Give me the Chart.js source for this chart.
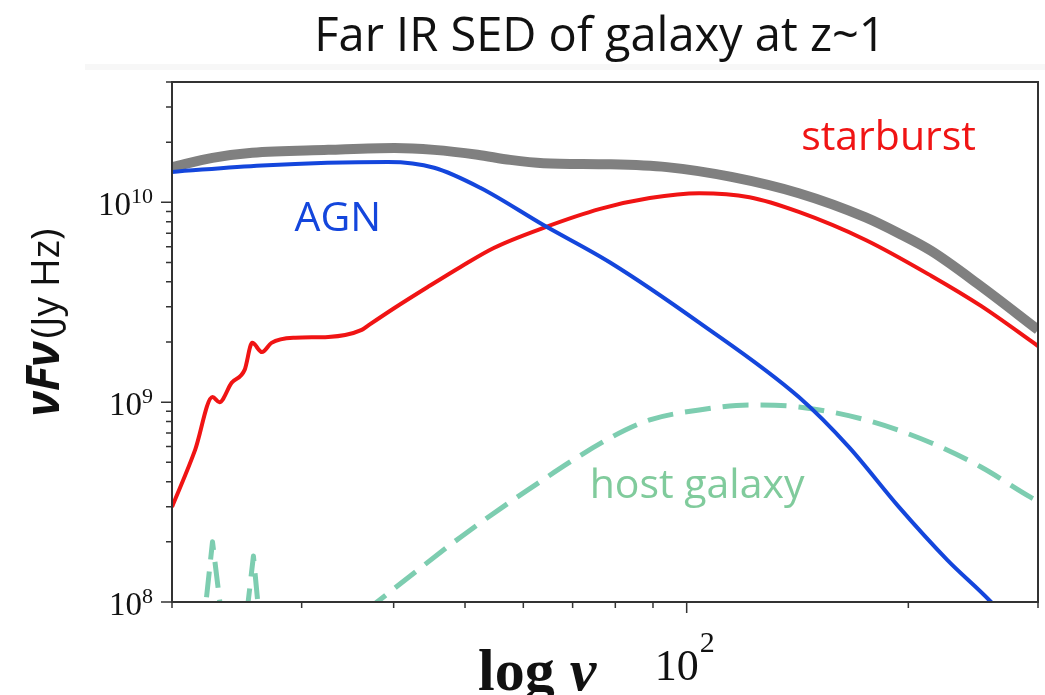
<!DOCTYPE html>
<html>
<head>
<meta charset="utf-8">
<script src="https://cdn.jsdelivr.net/npm/chart.js@4"></script>
<style>
  html, body { margin: 0; padding: 0; background: #fff; }
  #wrap { width: 1045px; height: 695px; position: relative; }
</style>
</head>
<body>
<div id="wrap"><canvas id="sed"></canvas></div>
<script>
// frequencies (x) and nuFnu (y)
const nuTotal = [20, 22.7, 25.7, 32.6, 40.1, 45.4, 52, 57.6, 63.9, 78.7, 94, 115, 142, 175, 194, 215, 251, 300];
const fTotal = [1.50e10, 1.67e10, 1.77e10, 1.83e10, 1.87e10, 1.83e10, 1.73e10, 1.63e10, 1.57e10, 1.55e10, 1.50e10, 1.34e10, 1.11e10, 8.4e9, 7.0e9, 5.7e9, 3.8e9, 2.3e9];

const nuAGN = [20, 26.5, 39.3, 45.4, 52.5, 63.9, 78.7, 104, 142, 166, 194, 226, 259, 300];
const fAGN = [1.42e10, 1.53e10, 1.59e10, 1.49e10, 1.18e10, 7.7e9, 5.0e9, 2.5e9, 1.06e9, 5.97e8, 3.0e8, 1.62e8, 1.0e8, 5.4e7];

const nuStarburst = [20, 21.5, 22.7, 23.2, 24.1, 25.1, 25.7, 26.5, 27.3, 29.4, 32.6, 36.2, 37.0, 40.1, 44.5, 49.3, 54.7, 63.9, 76.3, 89.1, 104, 121.7, 142, 175, 215, 251, 300];
const fStarburst = [2.99e8, 5.77e8, 1.06e9, 1.0e9, 1.25e9, 1.45e9, 1.98e9, 1.78e9, 1.98e9, 2.10e9, 2.12e9, 2.30e9, 2.43e9, 2.96e9, 3.77e9, 4.75e9, 5.91e9, 7.45e9, 9.27e9, 1.05e10, 1.11e10, 1.06e10, 8.95e9, 6.48e9, 4.28e9, 3.03e9, 1.91e9];

// host galaxy: the two narrow features at low nu, then the broad hump
const nuHostSpikes = [20, 22.1, 22.7, 23.4, 24.3, 25.2, 25.8, 26.3, 27.5];
const fHostSpikes = [5e7, 8e7, 2.0e8, 8e7, 5e7, 8e7, 1.7e8, 8e7, 5e7];
const nuHost = [30, 37.7, 40.1, 49.3, 60.8, 78.7, 89.1, 104, 121.7, 142, 175, 215, 251, 293, 300];
const fHost = [5.56e7, 9.8e7, 1.17e8, 2.11e8, 3.63e8, 6.62e8, 8.15e8, 9.14e8, 9.68e8, 9.46e8, 8.15e8, 6.25e8, 4.74e8, 3.35e8, 3.2e8];

// axis ticks
const xMin = 20, xMax = 300;
const yMin = 1e8, yMax = 4e10;
const xMajorTicks = [100];
const xMajorExps = ['2'];
const xMinorTicks = [20, 30, 40, 50, 60, 70, 80, 90, 200, 300];
const yMajorTicks = [1e8, 1e9, 1e10];
const yMajorExps = ['8', '9', '10'];
const yMinorTicks = [2e8, 3e8, 4e8, 5e8, 6e8, 7e8, 8e8, 9e8, 2e9, 3e9, 4e9, 5e9, 6e9, 7e9, 8e9, 9e9, 2e10, 3e10, 4e10];

// curve labels: text, nu, nuFnu
const curveLabels = ['starburst', 'AGN', 'host galaxy'];
const curveLabelNu = [188, 33.6, 103.3];
const curveLabelF = [1.83e10, 7.2e9, 3.31e8];
const curveLabelColors = ['#f01414', '#1446dc', '#80cb9c'];

const toPoints = (xs, ys) => xs.map((x, i) => ({ x: x, y: ys[i] }));

const decor = {
  id: 'decor',
  beforeDraw(chart) {
    const ctx = chart.ctx;
    ctx.save();
    ctx.fillStyle = '#fff';
    ctx.fillRect(0, 0, chart.width, chart.height);
    // faint band under the title
    ctx.fillStyle = '#f7f7f7';
    ctx.fillRect(85, 64, chart.width - 85, 6);
    ctx.restore();
  },
  afterDraw(chart) {
    const ctx = chart.ctx;
    const a = chart.chartArea;
    const xs = chart.scales.x, ys = chart.scales.y;
    ctx.save();

    // title
    ctx.fillStyle = '#111';
    ctx.font = '47px "Open Sans"';
    ctx.textAlign = 'center';
    ctx.textBaseline = 'alphabetic';
    ctx.fillText('Far IR SED of galaxy at z~1', 600, 51);

    // frame
    ctx.strokeStyle = '#333';
    ctx.lineWidth = 2;
    ctx.strokeRect(a.left, a.top, a.right - a.left, a.bottom - a.top);

    // ticks
    ctx.lineWidth = 1.5;
    ctx.beginPath();
    yMinorTicks.forEach(v => { const p = ys.getPixelForValue(v); ctx.moveTo(a.left - 6, p); ctx.lineTo(a.left, p); });
    yMajorTicks.forEach(v => { const p = ys.getPixelForValue(v); ctx.moveTo(a.left - 11, p); ctx.lineTo(a.left, p); });
    xMinorTicks.forEach(v => { const p = xs.getPixelForValue(v); ctx.moveTo(p, a.bottom); ctx.lineTo(p, a.bottom + 6); });
    xMajorTicks.forEach(v => { const p = xs.getPixelForValue(v); ctx.moveTo(p, a.bottom); ctx.lineTo(p, a.bottom + 11); });
    ctx.stroke();

    // tick labels, 10^n
    ctx.fillStyle = '#111';
    ctx.textBaseline = 'alphabetic';
    yMajorTicks.forEach((v, i) => {
      const p = ys.getPixelForValue(v);
      ctx.font = '22px "Liberation Serif"';
      const ew = ctx.measureText(yMajorExps[i]).width;
      ctx.textAlign = 'right';
      ctx.fillText(yMajorExps[i], a.left - 19, p + 1);
      ctx.font = '33px "Liberation Serif"';
      ctx.fillText('10', a.left - 19 - ew, p + 13);
    });
    xMajorTicks.forEach((v, i) => {
      const p = xs.getPixelForValue(v);
      ctx.font = '44px "Liberation Serif"';
      ctx.textAlign = 'right';
      ctx.fillText('10', p + 12, 680);
      ctx.font = '30px "Liberation Serif"';
      ctx.textAlign = 'left';
      ctx.fillText(xMajorExps[i], p + 13, 652);
    });

    // axis titles
    ctx.font = 'bold 60px "Liberation Serif"';
    ctx.textAlign = 'left';
    const lw = ctx.measureText('log ').width;
    ctx.fillText('log ', 478, 690);
    ctx.font = 'bold italic 60px "Liberation Serif"';
    ctx.fillText('\u03bd', 478 + lw, 690);

    ctx.save();
    ctx.translate(59, 324);
    ctx.rotate(-Math.PI / 2);
    ctx.font = 'bold italic 46px "Open Sans"';
    const w1 = ctx.measureText('\u03bdF\u03bd').width;
    ctx.font = '39px "Open Sans"';
    const w2 = ctx.measureText('(Jy Hz)').width;
    const x0 = -(w1 + w2) / 2;
    ctx.textAlign = 'left';
    ctx.font = 'bold italic 46px "Open Sans"';
    ctx.fillText('\u03bdF\u03bd', x0, 0);
    ctx.font = '39px "Open Sans"';
    ctx.fillText('(Jy Hz)', x0 + w1 + 3, 0);
    ctx.restore();

    // curve labels
    ctx.font = '41px "Open Sans"';
    ctx.textAlign = 'center';
    curveLabels.forEach((t, i) => {
      ctx.fillStyle = curveLabelColors[i];
      ctx.fillText(t, xs.getPixelForValue(curveLabelNu[i]), ys.getPixelForValue(curveLabelF[i]));
    });
    ctx.restore();
  }
};

new Chart(document.getElementById('sed'), {
  type: 'line',
  data: {
    datasets: [
      {
        label: 'total',
        data: toPoints(nuTotal, fTotal),
        borderColor: '#808080',
        borderWidth: 10,
        order: 5
      },
      {
        label: 'host galaxy',
        data: toPoints(nuHost, fHost),
        borderColor: '#7dcdb0',
        borderWidth: 5,
        borderDash: [26, 12],
        order: 4
      },
      {
        label: 'host galaxy (low nu)',
        data: toPoints(nuHostSpikes, fHostSpikes),
        borderColor: '#7dcdb0',
        borderWidth: 5,
        borderDash: [26, 12],
        cubicInterpolationMode: 'default',
        tension: 0,
        order: 3
      },
      {
        label: 'starburst',
        data: toPoints(nuStarburst, fStarburst),
        borderColor: '#f01414',
        borderWidth: 4,
        order: 2
      },
      {
        label: 'AGN',
        data: toPoints(nuAGN, fAGN),
        borderColor: '#1446dc',
        borderWidth: 4,
        order: 1
      }
    ]
  },
  options: {
    responsive: true,
    maintainAspectRatio: false,
    animation: false,
    layout: { padding: { left: 172, right: 7, top: 82, bottom: 93 } },
    elements: {
      point: { radius: 0 },
      line: { cubicInterpolationMode: 'monotone', fill: false, borderCapStyle: 'butt', borderJoinStyle: 'round' }
    },
    plugins: {
      legend: { display: false },
      tooltip: { enabled: false }
    },
    scales: {
      x: { type: 'logarithmic', min: xMin, max: xMax, display: false },
      y: { type: 'logarithmic', min: yMin, max: yMax, display: false }
    }
  },
  plugins: [decor]
});
</script>
</body>
</html>
